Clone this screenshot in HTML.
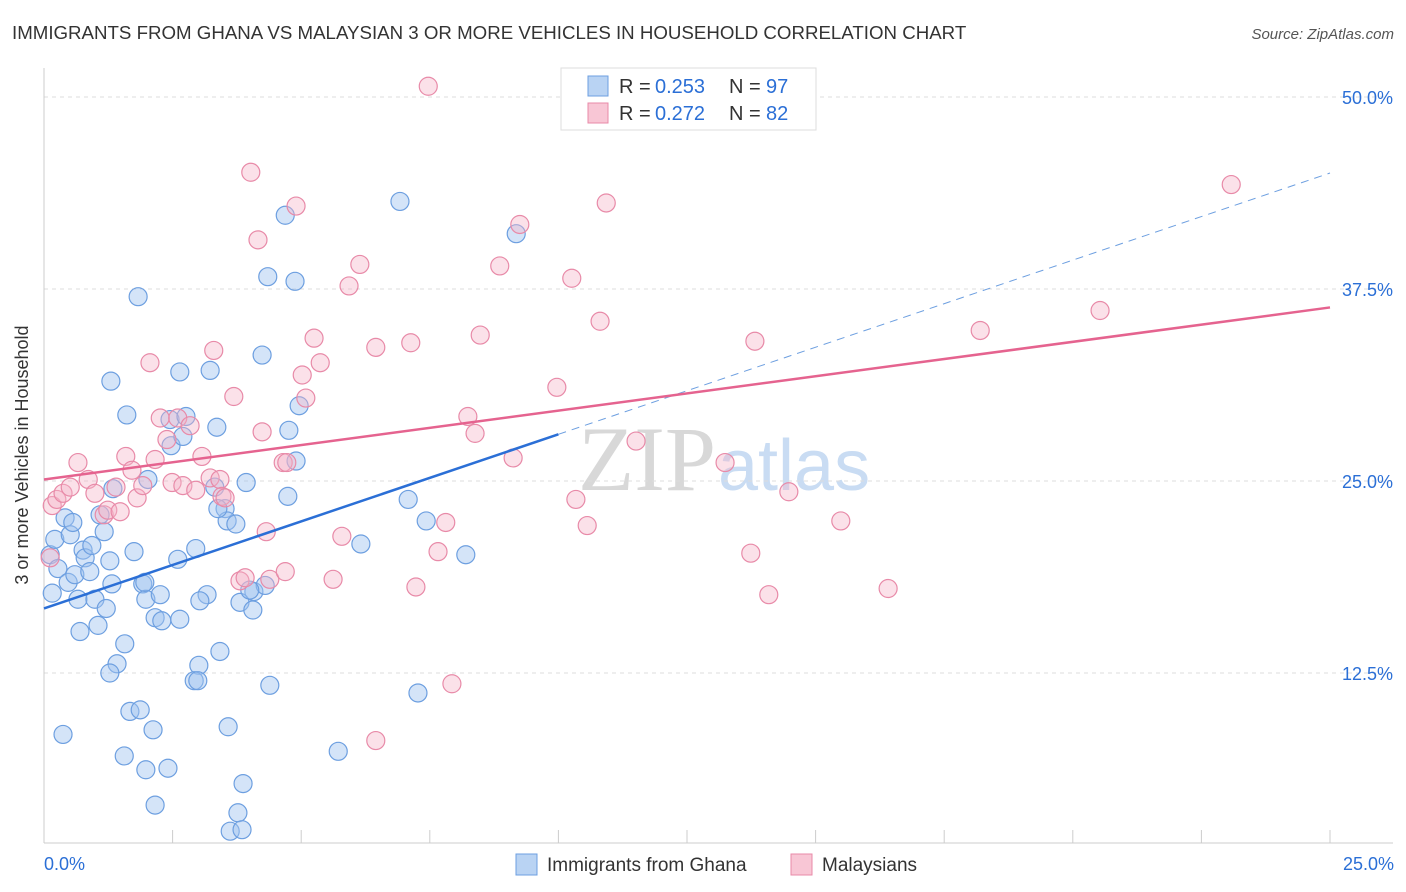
<!DOCTYPE html>
<html><head><meta charset="utf-8"><style>
body{margin:0;background:#fff;font-family:"Liberation Sans",sans-serif;}
#wrap{position:relative;width:1406px;height:892px;overflow:hidden;}
</style></head><body>
<div id="wrap">
<svg id="svg" width="1406" height="892" xmlns="http://www.w3.org/2000/svg">
<text x="12" y="39" font-size="18.7" fill="#333">IMMIGRANTS FROM GHANA VS MALAYSIAN 3 OR MORE VEHICLES IN HOUSEHOLD CORRELATION CHART</text>
<text x="1394" y="39" font-size="15" fill="#555" font-style="italic" text-anchor="end">Source: ZipAtlas.com</text>
<text x="28" y="455" font-size="18" fill="#333" text-anchor="middle" transform="rotate(-90 28 455)">3 or more Vehicles in Household</text>
<text x="716" y="490" font-size="92" fill="#d8d8d8" text-anchor="end" font-family="Liberation Serif,serif">ZIP</text>
<text x="718" y="490" font-size="72" fill="#c9dcf3">atlas</text>
<g id="grid"></g><g id="pts"></g><g id="lines"></g>
<g>
<rect x="561" y="68" width="255" height="62" fill="#fff" stroke="#ddd"/>
<rect x="588" y="76" width="20" height="20" fill="#b9d3f3" stroke="#6d9fe0"/>
<rect x="588" y="103" width="20" height="20" fill="#f8c6d5" stroke="#e88aa8"/>
<text x="619" y="93" font-size="20" fill="#333">R =</text>
<text x="655" y="93" font-size="20" fill="#2b6fd6">0.253</text>
<text x="729" y="93" font-size="20" fill="#333">N =</text>
<text x="766" y="93" font-size="20" fill="#2b6fd6">97</text>
<text x="619" y="120" font-size="20" fill="#333">R =</text>
<text x="655" y="120" font-size="20" fill="#2b6fd6">0.272</text>
<text x="729" y="120" font-size="20" fill="#333">N =</text>
<text x="766" y="120" font-size="20" fill="#2b6fd6">82</text>
</g>
<g>
<rect x="516" y="854" width="21" height="21" fill="#b9d3f3" stroke="#6d9fe0"/>
<text x="547" y="871" font-size="19" fill="#333">Immigrants from Ghana</text>
<rect x="791" y="854" width="21" height="21" fill="#f8c6d5" stroke="#e88aa8"/>
<text x="822" y="871" font-size="19" fill="#333">Malaysians</text>
</g>
</svg>
</div>
<script>
const yTicks=[12.5,25,37.5,50];
const yTickLabels=["12.5%","25.0%","37.5%","50.0%"];
const xTickLabels=["0.0%","25.0%"];
const blueX=[0.16,0.12,0.21,0.27,0.41,0.51,0.56,0.47,0.60,0.66,0.70,0.76,0.80,0.89,0.93,0.99,1.05,1.17,1.21,1.09,1.32,1.34,1.42,1.28,1.57,1.61,1.30,1.83,1.75,1.92,1.67,1.87,2.02,1.98,2.12,2.16,2.26,2.29,2.45,2.47,2.60,2.64,2.70,2.76,2.95,3.01,2.92,3.17,3.23,3.36,3.32,3.52,3.56,3.73,3.93,3.42,3.58,3.81,4.06,4.08,4.24,4.30,4.35,4.39,4.76,4.74,4.88,4.90,4.96,4.69,5.72,6.16,6.92,7.08,7.43,7.27,8.20,9.18,0.37,1.56,1.98,2.41,2.16,3.87,3.77,3.62,3.85,2.99,4.00,3.38,3.03,2.64,1.96,1.28];
const blueY=[17.7,20.2,21.2,19.3,22.6,21.5,22.3,18.4,18.9,17.3,15.2,20.5,20.0,19.1,20.8,17.3,15.6,21.7,16.7,22.8,18.3,24.5,13.1,12.5,14.4,29.3,31.5,37.0,20.4,18.3,10.0,10.1,25.1,17.3,8.8,16.1,17.6,15.9,29.0,27.3,19.9,32.1,27.9,29.2,20.6,13.0,12.0,17.6,32.2,28.5,24.6,23.2,22.4,22.2,24.9,13.9,9.0,17.1,16.6,17.8,33.2,18.2,38.3,11.7,28.3,24.0,38.0,26.3,29.9,42.3,7.4,20.9,43.2,23.8,22.4,11.2,20.2,41.1,8.5,7.1,6.2,6.3,3.9,5.3,3.4,2.2,2.3,12.0,17.9,23.2,17.2,16.0,18.4,19.8];
const pinkX=[0.12,0.16,0.25,0.37,0.51,0.66,0.86,0.99,1.17,1.24,1.48,1.40,1.59,1.71,1.81,1.92,2.06,2.16,2.26,2.39,2.49,2.60,2.70,2.84,2.95,3.07,3.23,3.30,3.42,3.46,3.52,3.69,3.81,3.91,4.02,4.16,4.24,4.32,4.39,4.65,4.69,4.72,4.90,5.02,5.09,5.25,5.37,5.62,5.79,5.93,6.14,6.45,6.45,7.13,7.23,7.47,7.81,7.66,7.93,8.24,8.38,8.48,8.86,9.12,9.25,9.97,10.34,10.56,10.26,10.81,10.93,11.51,13.24,13.74,13.82,14.09,14.48,15.49,16.41,18.20,20.53,23.08];
const pinkY=[20.0,23.4,23.8,24.2,24.6,26.2,25.1,24.2,22.8,23.1,23.0,24.6,26.6,25.7,23.9,24.7,32.7,26.4,29.1,27.7,24.9,29.1,24.7,28.6,24.4,26.6,25.2,33.5,25.1,24.0,23.9,30.5,18.5,18.7,45.1,40.7,28.2,21.7,18.6,26.2,19.1,26.2,42.9,31.9,30.4,34.3,32.7,18.6,21.4,37.7,39.1,33.7,8.1,34.0,18.1,50.7,22.3,20.4,11.8,29.2,28.1,34.5,39.0,26.5,41.7,31.1,23.8,22.1,38.2,35.4,43.1,27.6,26.2,20.3,34.1,17.6,24.3,22.4,18.0,34.8,36.1,44.3];
const blueLine=[16.7,45.05], blueSolidEnd=10.0;
const pinkLine=[25.1,36.3];

const NS="http://www.w3.org/2000/svg";
const X0=44,X1=1330,Ytop=97,pxPer=15.36;
function sx(v){return X0+v/25*(X1-X0);}
function sy(v){return Ytop+(50-v)*pxPer;}
function mk(tag,attrs,parent){const e=document.createElementNS(NS,tag);for(const k in attrs)e.setAttribute(k,attrs[k]);parent.appendChild(e);return e;}
const grid=document.getElementById('grid'),pts=document.getElementById('pts'),lines=document.getElementById('lines');
yTicks.forEach((t,i)=>{
  const l=mk('line',{x1:X0,x2:1393,y1:sy(t),y2:sy(t),stroke:'#ddd','stroke-dasharray':'4,4'},grid);
  
  
  const tx=mk('text',{x:1393,y:sy(t)+7,'font-size':18,fill:'#2b6fd6','text-anchor':'end'},grid);
  tx.textContent=yTickLabels[i];
  
  
});
let ax=mk('line',{x1:X0,x2:1393,y1:843,y2:843,stroke:'#ccc'},grid);


let ay=mk('line',{x1:X0,x2:X0,y1:68,y2:843,stroke:'#ccc'},grid);


for(let i=0;i<=10;i++){
  const t=mk('line',{x1:sx(i*2.5),x2:sx(i*2.5),y1:843,y2:830,stroke:'#ccc'},grid);
  
  
}
[[0,'start',44],[25,'end',1394]].forEach((a,i)=>{
  const t=mk('text',{x:a[2],y:870,'font-size':18,fill:'#2b6fd6','text-anchor':a[1]},grid);
  t.textContent=xTickLabels[i];
  
  
});
blueX.forEach((x,i)=>{
  const c=mk('circle',{cx:sx(x),cy:sy(blueY[i]),r:9,fill:'rgba(160,196,240,0.45)',stroke:'#6d9fe0','stroke-width':1.2},pts);
  
  
});
pinkX.forEach((x,i)=>{
  const c=mk('circle',{cx:sx(x),cy:sy(pinkY[i]),r:9,fill:'rgba(246,180,200,0.4)',stroke:'#e88aa8','stroke-width':1.2},pts);
  
  
});
function ly(line,x){return line[0]+(line[1]-line[0])*x/25;}
let b1=mk('line',{x1:sx(0),y1:sy(ly(blueLine,0)),x2:sx(blueSolidEnd),y2:sy(ly(blueLine,blueSolidEnd)),stroke:'#2b6fd6','stroke-width':2.5},lines);


let b2=mk('line',{x1:sx(blueSolidEnd),y1:sy(ly(blueLine,blueSolidEnd)),x2:sx(25),y2:sy(ly(blueLine,25)),stroke:'#6d9fe0','stroke-width':1,'stroke-dasharray':'8,6'},lines);


let p1=mk('line',{x1:sx(0),y1:sy(ly(pinkLine,0)),x2:sx(25),y2:sy(ly(pinkLine,25)),stroke:'#e5638f','stroke-width':2.5},lines);


</script>
</body></html>
